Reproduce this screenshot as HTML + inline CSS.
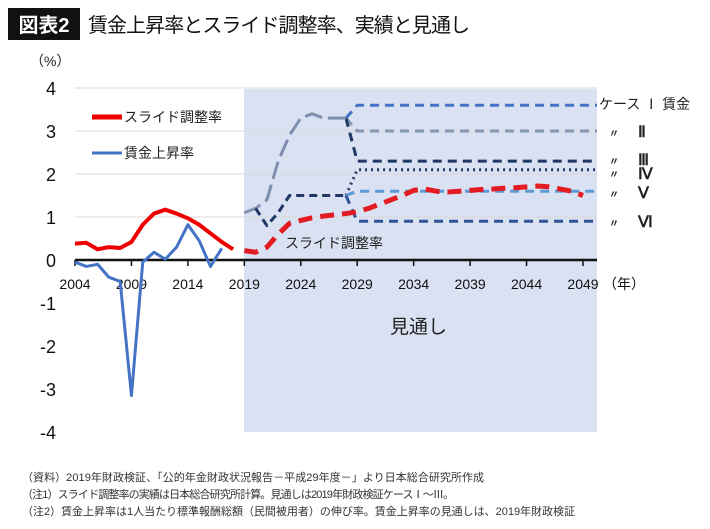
<!DOCTYPE html>
<html><head><meta charset="utf-8"><style>
body{margin:0;background:#fff}
svg{display:block;font-family:"Liberation Sans","Noto Sans CJK JP",sans-serif}
</style></head><body>
<svg id="c" width="710" height="529" viewBox="0 0 710 529">
<rect x="8" y="8" width="72" height="32" fill="#111"/>
<text x="44" y="32" font-size="20" font-weight="bold" fill="#fff" text-anchor="middle">図表2</text>
<text x="88" y="32" font-size="20" fill="#111" textLength="382">賃金上昇率とスライド調整率、実績と見通し</text>
<text x="30" y="66" font-size="14" fill="#222">（%）</text>
<rect x="244" y="89" width="353" height="343" fill="#d9e1f2"/>
<g id="grid"></g><g id="axes"></g><g id="series"></g>
<text x="390" y="333" font-size="19" fill="#222">見通し</text>
<line x1="92" y1="117" x2="122" y2="117" stroke="#e00" stroke-width="5"/>
<text x="124" y="122" font-size="14" fill="#222">スライド調整率</text>
<line x1="92" y1="153" x2="122" y2="153" stroke="#4472c4" stroke-width="3"/>
<text x="124" y="158" font-size="14" fill="#222">賃金上昇率</text>
<text x="285" y="248" font-size="14" fill="#222">スライド調整率</text>
<text x="599" y="109" font-size="14" fill="#222">ケース Ⅰ 賃金</text>
<g font-size="16" fill="#222" font-weight="bold" font-family="Liberation Serif,serif">
<text x="609" y="137" font-size="10">〃</text><text x="638" y="137">Ⅱ</text>
<text x="609" y="165" font-size="10">〃</text><text x="638" y="165">Ⅲ</text>
<text x="609" y="178" font-size="10">〃</text><text x="638" y="179">Ⅳ</text>
<text x="609" y="198" font-size="10">〃</text><text x="638" y="198">Ⅴ</text>
<text x="609" y="227" font-size="10">〃</text><text x="638" y="227">Ⅵ</text>
</g>
<g font-size="11" fill="#333">
<text x="22" y="481" textLength="462">（資料）2019年財政検証、「公的年金財政状況報告－平成29年度－」より日本総合研究所作成</text>
<text x="22" y="498" textLength="432">（注1）スライド調整率の実績は日本総合研究所計算。見通しは2019年財政検証ケースⅠ～Ⅲ。</text>
<text x="22" y="515" textLength="553">（注2）賃金上昇率は1人当たり標準報酬総額（民間被用者）の伸び率。賃金上昇率の見通しは、2019年財政検証</text>
</g>
</svg>
<script>
const xTicks=[2004,2009,2014,2019,2024,2029,2034,2039,2044,2049];
const yTicks=[4,3,2,1,0,-1,-2,-3,-4];
const slideActual=[0.38,0.4,0.25,0.3,0.28,0.42,0.82,1.08,1.17,1.08,0.97,0.82,0.62,0.42,0.25];
const wageActual=[-0.05,-0.15,-0.1,-0.4,-0.5,-3.15,-0.05,0.18,0.02,0.3,0.82,0.45,-0.15,0.27];
const slideProj=[0.22,0.18,0.3,0.6,0.85,0.92,0.98,1.02,1.05,1.08,1.12,1.2,1.3,1.4,1.5,1.62,1.65,1.6,1.58,1.6,1.62,1.64,1.65,1.67,1.68,1.7,1.72,1.7,1.65,1.6,1.5];
const highPath=[1.1,1.2,1.4,2.3,2.9,3.3,3.4,3.3,3.3,3.3];
const lowPath=[1.2,0.8,1.1,1.5,1.5,1.5,1.5,1.5,1.5];
const caseLevels=[3.6,3.0,2.3,2.1,1.6,0.9];
const NS='http://www.w3.org/2000/svg';
const X=y=>75+(y-2004)*(583-75)/45, Y=v=>260-v*43;
function mk(tag,attrs,parent){const e=document.createElementNS(NS,tag);for(const k in attrs)e.setAttribute(k,attrs[k]);document.getElementById(parent).appendChild(e);return e;}
const pts=(arr,start)=>arr.map((v,i)=>X(start+i)+','+Y(v)).join(' ');
yTicks.forEach(t=>{
 if(t>0){const g=mk('line',{x1:75,x2:597,y1:Y(t),y2:Y(t),stroke:'#d9d9d9','stroke-width':1},'grid');
 
 }
 const l=mk('text',{x:56,y:Y(t)+7,'font-size':18,'text-anchor':'end',fill:'#111'},'axes');l.textContent=t;
 
 
});
const ax=mk('line',{x1:75,x2:597,y1:Y(0),y2:Y(0),stroke:'#111','stroke-width':2.5},'axes');


xTicks.forEach(t=>{
 const tk=mk('line',{x1:X(t),x2:X(t),y1:Y(0),y2:Y(0)+6,stroke:'#111','stroke-width':1.5},'axes');
 
 
 const l=mk('text',{x:X(t),y:Y(0)+29,'font-size':14,'text-anchor':'middle',fill:'#111'},'axes');l.textContent=t;
 
 
});
const yr=mk('text',{x:X(2049)+20,y:Y(0)+29,'font-size':14,fill:'#111'},'axes');yr.textContent='（年）';


function line(p,stroke,w,dash,name){const e=mk('polyline',{points:p,fill:'none',stroke:stroke,'stroke-width':w,'stroke-dasharray':dash||'none','stroke-linejoin':'round'},'series');
 
 }
const last=2028,hi=highPath[highPath.length-1],lo=lowPath[lowPath.length-1];
const cCols=['#4472c4','#8497b0','#203864','#203864','#5b9bd5','#2f5597'];
const cDash=['9,6','9,6','9,6','2,4','9,6','9,6'];
const cFrom=[hi,hi,hi,lo,lo,lo];
caseLevels.forEach((v,i)=>{
 line(X(last)+','+Y(cFrom[i])+' '+X(2029)+','+Y(v)+' '+(X(2049)+14)+','+Y(v),cCols[i],3,cDash[i],'case-'+(i+1)+'-line');
});
line(pts(highPath,2019),'#7f8faf',3,'18,6','wage-high-path');
line(pts(lowPath,2020),'#203864',3,'8,5','wage-low-path');
line(pts(wageActual,2004),'#4472c4',3,null,'wage-actual-line');
line(pts(slideActual,2004),'#e00',4,null,'slide-actual-line');
line(pts(slideProj,2019),'#e31b23',5,'14,8','slide-projection-line');
</script>
</body></html>
